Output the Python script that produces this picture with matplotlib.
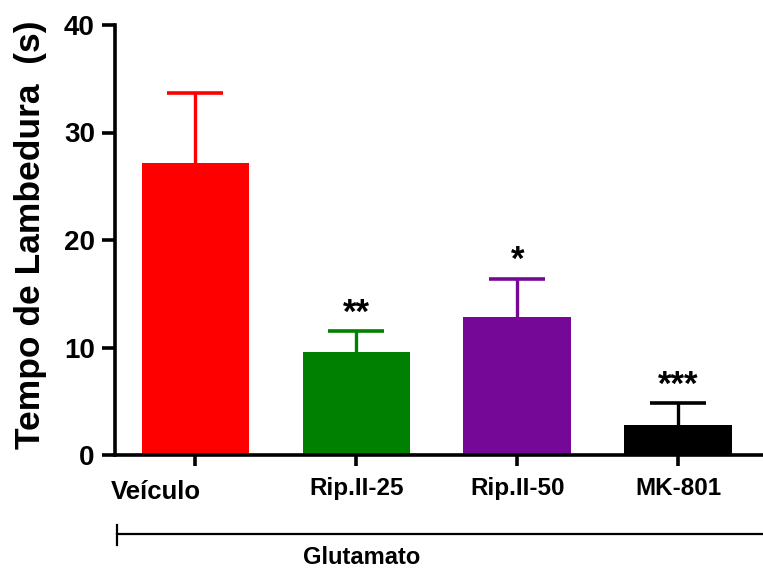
import matplotlib
matplotlib.use("Agg")
import matplotlib.pyplot as plt
from matplotlib.lines import Line2D

categories = ["Veículo", "Rip.II-25", "Rip.II-50", "MK-801"]
means = [27.2, 9.6, 12.8, 2.8]
errors = [6.5, 1.9, 3.6, 2.0]
stars = ["", "**", "*", "***"]
colors = ["#FF0000", "#008000", "#750896", "#000000"]
yticks = [0, 10, 20, 30, 40]
group_label = "Glutamato"
ylabel = "Tempo de Lambedura  (s)"

plt.rcParams['font.family'] = ['Liberation Sans', 'DejaVu Sans']
plt.rcParams['font.weight'] = 'bold'

W, H = 763, 572
fig = plt.figure(figsize=(W / 100, H / 100), dpi=100)
ax = fig.add_axes([115 / W, (H - 455) / H, (762 - 115) / W, (455 - 25) / H])

x = list(range(len(categories)))
ax.bar(x, means, width=0.67, color=colors, zorder=2)
for xi, m, e, c in zip(x, means, errors, colors):
    eb = ax.errorbar(xi, m, yerr=[[0], [e]], fmt='none', ecolor=c, elinewidth=2.4,
                     capsize=20, capthick=2.6, zorder=1)
    caps = eb.lines[1]
    if len(caps) == 2:
        caps[0].remove()
for xi, m, e, s in zip(x, means, errors, stars):
    if s:
        ax.annotate(s, (xi, m + e), xytext=(0, 1), textcoords='offset points',
                    ha='center', va='bottom', fontsize=25, fontweight='bold')

ax.set_xlim(-0.5, 3.52)
ax.set_ylim(0, 40)
ax.set_yticks(yticks)
ax.set_yticklabels([str(t) for t in yticks], fontsize=20, fontweight='bold')
ax.set_xticks(x)
ax.set_xticklabels([""] + categories[1:], fontsize=17.5, fontweight='bold')
# first category label is shifted left in the original figure
ax.text((156 - 115) / 647, -(492 - 455) / 430, categories[0], ha='center',
        va='center', fontsize=18.5, fontweight='bold', transform=ax.transAxes)

for side in ['top', 'right']:
    ax.spines[side].set_visible(False)
for side in ['left', 'bottom']:
    ax.spines[side].set_linewidth(2.6)
ax.tick_params(axis='y', length=9.5, width=2.6, pad=5)
ax.tick_params(axis='x', length=8, width=2.6, pad=8)

ax.text((31 - 115) / 647, (455 - 235) / 430, ylabel, rotation=90,
        ha='center', va='center', fontsize=25.5, fontweight='bold',
        transform=ax.transAxes)

# group bracket
fig.add_artist(Line2D([117 / W, 1.0], [1 - 534 / H, 1 - 534 / H],
                      color='black', lw=1.6, transform=fig.transFigure))
fig.add_artist(Line2D([117 / W, 117 / W], [1 - 525 / H, 1 - 545 / H],
                      color='black', lw=1.6, transform=fig.transFigure))
fig.text(362 / W, 1 - 557 / H, group_label, ha='center', va='center',
         fontsize=17, fontweight='bold')

fig.savefig("out.png", dpi=100)
